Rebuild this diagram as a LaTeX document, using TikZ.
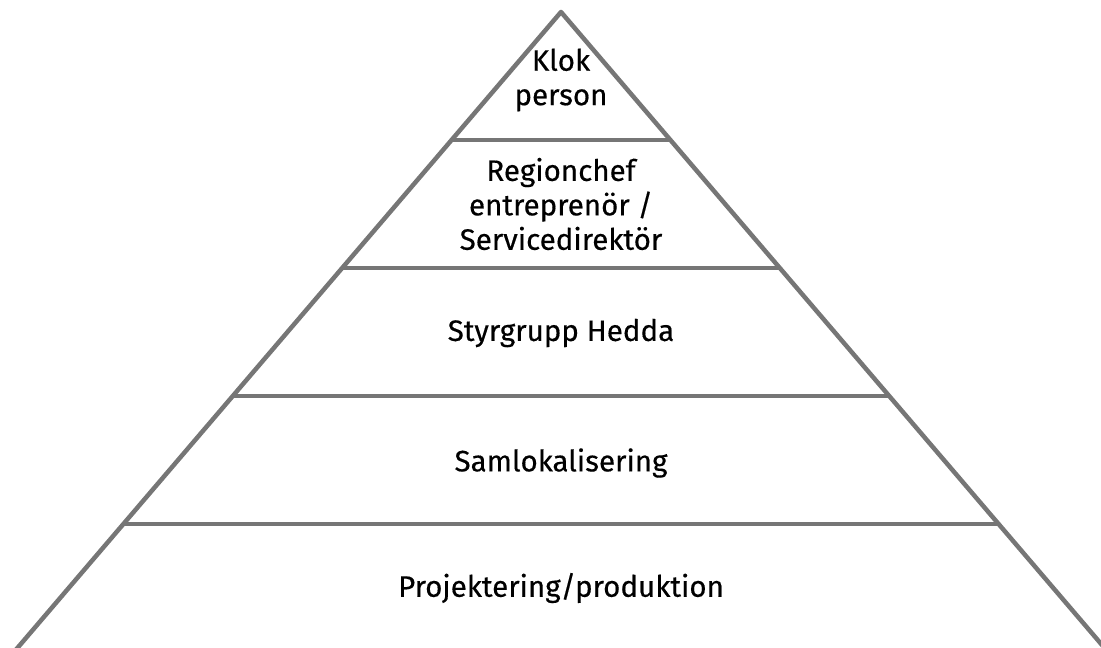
\documentclass[tikz,border=0pt]{standalone}
\usepackage{fontspec}
\setmainfont{Fira Sans}[BoldFont=Fira Sans, BoldFeatures={FakeBold=0.4}]
\usetikzlibrary{calc}
\definecolor{edgegray}{RGB}{118,118,118}

\begin{document}
\begin{tikzpicture}[x=0.025cm, y=-0.025cm, line width=3.2pt,
    every node/.style={font=\fontsize{21}{24.5}\selectfont\bfseries, align=center}]
    % Frame
    \useasboundingbox (0,0) rectangle (1101,648);
    \clip (0,0) rectangle (1101,648);

    % Pyramid outline
    \coordinate (apex) at (561,12);
    \coordinate (baseL) at (14,652);
    \coordinate (baseR) at (1108,652);
    \draw[edgegray, line join=round] (baseL) -- (apex) -- (baseR);

    % Level lines
    \foreach \k in {1,...,4}
        \draw[edgegray] ($(apex)!\k/5!(baseL)$) -- ($(apex)!\k/5!(baseR)$);

    % Labels
    \node (klok) at (561,80) {Klok\\person};
    \node (region) at (561,204) {Regionchef\\entreprenör /\\Servicedirektör};
    \node (styr) at (561,333) {Styrgrupp Hedda};
    \node (samlok) at (561,463) {Samlokalisering};
    \node (proj) at (561,588) {Projektering/produktion};
\end{tikzpicture}
\end{document}
